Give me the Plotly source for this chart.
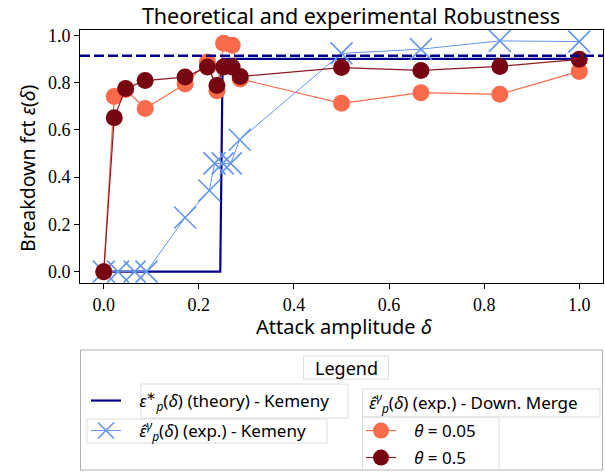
import plotly.graph_objects as go

# ---------------- data ----------------
theory_x = [0.0, 0.245, 0.25, 1.0]
theory_y = [0.0, 0.0, 0.90, 0.90]
theory_level = 0.913

kemeny_x = [0.0, 0.03, 0.065, 0.09, 0.171, 0.222, 0.233, 0.25, 0.267, 0.286, 0.5, 0.667, 0.833, 1.0]
kemeny_y = [0.0, 0.0, 0.0, 0.0, 0.229, 0.343, 0.458, 0.458, 0.458, 0.558, 0.923, 0.941, 0.976, 0.973]

dm_x = [0.0, 0.022, 0.046, 0.087, 0.171, 0.218, 0.238, 0.252, 0.27, 0.287, 0.5, 0.667, 0.833, 1.0]
dm005_y = [0.0, 0.741, 0.77, 0.69, 0.794, 0.887, 0.765, 0.966, 0.958, 0.815, 0.712, 0.757, 0.75, 0.847]
dm05_y = [0.0, 0.651, 0.775, 0.808, 0.823, 0.866, 0.787, 0.866, 0.866, 0.825, 0.863, 0.851, 0.868, 0.898]

x_ticks = [0.0, 0.2, 0.4, 0.6, 0.8, 1.0]
y_ticks = [0.0, 0.2, 0.4, 0.6, 0.8, 1.0]

C_THEORY = "#00008b"
C_KEM = "#6495ed"
C_005 = "#fb6a4a"
C_05 = "#780612"

SANS = "Noto Sans"
SERIF = "Liberation Serif"

W, H = 605, 472
ML, MR, MT, MB = 80, 2, 30, 189
PW = W - ML - MR
PH = H - MT - MB


def px(xp):
    return (xp - ML) / PW


def py(yp):
    return (H - MB - yp) / PH


def cx(xp):
    return xp / W


def cy(yp):
    return 1 - yp / H


fig = go.Figure()

NB = "\u00a0\u00a0\u00a0"
fig.add_trace(go.Scatter(
    x=theory_x, y=theory_y, mode="lines",
    line=dict(color=C_THEORY, width=2.2),
    name=NB + "<i>ε</i><sup>∗</sup><sub><i>p</i></sub>(<i>δ</i>) (theory) - Kemeny",
    legend="legend",
))
fig.add_trace(go.Scatter(
    x=kemeny_x, y=kemeny_y, mode="lines+markers",
    line=dict(color=C_KEM, width=1),
    marker=dict(symbol="x-thin", size=22, line=dict(color=C_KEM, width=1.6)),
    name=NB + "<i>ε̂</i><sup><i>γ</i></sup><sub><i>p</i></sub>(<i>δ</i>) (exp.) - Kemeny",
    legend="legend2",
))
fig.add_trace(go.Scatter(
    x=dm_x, y=dm005_y, mode="lines+markers",
    line=dict(color=C_005, width=1.2),
    marker=dict(symbol="circle", size=17, color=C_005),
    name=NB + "<i>θ</i> = 0.05",
    legend="legend3",
))
fig.add_trace(go.Scatter(
    x=dm_x, y=dm05_y, mode="lines+markers",
    line=dict(color="#8e1c24", width=1.2),
    marker=dict(symbol="circle", size=17, color=C_05),
    name=NB + "<i>θ</i> = 0.5",
    legend="legend4",
))

# horizontal dashed theoretical level
fig.add_shape(type="line", xref="paper", x0=0, x1=1, yref="y",
              y0=theory_level, y1=theory_level,
              line=dict(color=C_THEORY, width=2.6, dash="10px,4px"))

# legend decoration boxes
boxes = [
    (80.5, 350, 602.5, 470, "#b0b0b0"),   # outer frame
    (303.5, 356, 388.5, 379, "#dddddd"),  # "Legend" title
    (141, 384, 348, 418, "#dddddd"),      # theory text
    (87, 419, 327, 443, "#dddddd"),       # kemeny exp
    (362.5, 389, 600, 417, "#dddddd"),    # down merge header
    (362.5, 417, 499, 470, "#dddddd"),    # theta entries
]
for x0, y0, x1, y1, c in boxes:
    fig.add_shape(type="rect", xref="paper", yref="paper",
                  x0=px(x0), x1=px(x1), y0=py(y0), y1=py(y1),
                  line=dict(color=c, width=1), layer="above")

fig.add_annotation(text="Legend", xref="paper", yref="paper",
                   x=px(346), y=py(368), showarrow=False,
                   font=dict(family=SANS, size=18, color="black"),
                   xanchor="center", yanchor="middle")
fig.add_annotation(text="<i>ε̂</i><sup><i>γ</i></sup><sub><i>p</i></sub>(<i>δ</i>) (exp.) - Down. Merge",
                   xref="paper", yref="paper",
                   x=px(367), y=py(402), showarrow=False,
                   font=dict(family=SANS, size=17, color="black"),
                   xanchor="left", yanchor="middle")

# axis titles
fig.add_annotation(text="Attack amplitude <i>δ</i>", xref="paper", yref="paper",
                   x=px(344), y=py(327), showarrow=False,
                   font=dict(family=SANS, size=20, color="black"),
                   xanchor="center", yanchor="middle")
fig.add_annotation(text="Breakdown fct <i>ε</i>(<i>δ</i>)", xref="paper", yref="paper",
                   x=px(27), y=py(168), showarrow=False, textangle=-90,
                   font=dict(family=SANS, size=19.5, color="black"),
                   xanchor="center", yanchor="middle")

leg_common = dict(bgcolor="rgba(0,0,0,0)", borderwidth=0,
                  font=dict(family=SANS, size=17, color="black"),
                  xanchor="left", yanchor="middle",
                  xref="container", yref="container")

fig.update_layout(
    width=W, height=H,
    margin=dict(l=ML, r=MR, t=MT, b=MB, autoexpand=False),
    paper_bgcolor="white", plot_bgcolor="white",
    showlegend=True,
    title=dict(text="Theoretical and experimental Robustness",
               x=cx(351), xanchor="center", xref="container",
               y=cy(16), yanchor="middle", yref="container",
               font=dict(family=SANS, size=21.5, color="black")),
    xaxis=dict(range=[-0.05, 1.05], tickvals=x_ticks,
               ticktext=[f"{v:.1f}" for v in x_ticks],
               ticks="outside", ticklen=5, tickwidth=1, tickcolor="black",
               showline=True, linecolor="black", linewidth=1, mirror=True,
               showgrid=False, zeroline=False,
               tickfont=dict(family=SERIF, size=18, color="black")),
    yaxis=dict(range=[-0.048, 1.022], tickvals=y_ticks,
               ticktext=[f"{v:.1f}" for v in y_ticks],
               ticks="outside", ticklen=5, tickwidth=1, tickcolor="black",
               showline=True, linecolor="black", linewidth=1, mirror=True,
               showgrid=False, zeroline=False,
               tickfont=dict(family=SERIF, size=18, color="black")),
    legend=dict(x=cx(86), y=cy(401), **leg_common),
    legend2=dict(x=cx(86), y=cy(431), **leg_common),
    legend3=dict(x=cx(361), y=cy(431), **leg_common),
    legend4=dict(x=cx(361), y=cy(458), **leg_common),
)

fig.write_html("out.html", config={"displayModeBar": False},
               post_script="document.body.style.margin='0';document.body.style.padding='0';")
